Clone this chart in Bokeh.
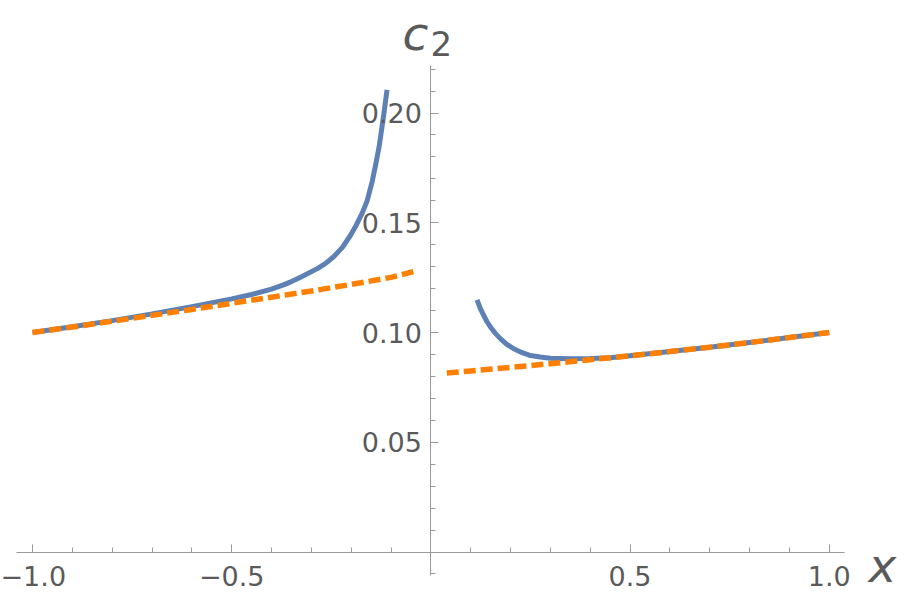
from bokeh.plotting import figure
from bokeh.models import Range1d, LinearAxis, FixedTicker, Label
from bokeh.embed import file_html
from bokeh.resources import INLINE

# ---- data ----
blue_left_x = [-1.0, -0.9, -0.8, -0.7, -0.6, -0.5, -0.45, -0.4, -0.37, -0.35,
               -0.327, -0.305, -0.285, -0.265, -0.244, -0.222, -0.202, -0.187, -0.172,
               -0.16, -0.147, -0.138, -0.130, -0.124, -0.118, -0.110]
blue_left_y = [0.1000, 0.1026, 0.1054, 0.1085, 0.1118, 0.1153, 0.1173, 0.1198, 0.1217, 0.1232,
               0.1252, 0.1272, 0.1291, 0.1314, 0.1345, 0.1388, 0.1442, 0.1490, 0.1545,
               0.1600, 0.1690, 0.1770, 0.1845, 0.1920, 0.1996, 0.2105]

blue_right_x = [0.116, 0.124, 0.133, 0.141, 0.150, 0.162, 0.175, 0.19, 0.208, 0.228,
                0.25, 0.275, 0.30, 0.35, 0.40, 0.45, 0.5, 0.6, 0.7, 0.8, 0.9, 1.0]
blue_right_y = [0.1149, 0.1110, 0.1077, 0.1049, 0.1024, 0.0996, 0.0971, 0.0947, 0.0926, 0.0909,
                0.0895, 0.0888, 0.0883, 0.0880, 0.0881, 0.0885, 0.0894, 0.0913, 0.0933, 0.0954,
                0.0977, 0.1000]

orange_left_x = [-1.0, -0.9, -0.8, -0.7, -0.6, -0.5, -0.4, -0.3, -0.2, -0.1, -0.044]
orange_left_y = [0.1000, 0.1025, 0.1051, 0.1078, 0.1105, 0.1133, 0.1161, 0.1189, 0.1219, 0.1251, 0.1277]

orange_right_x = [0.04, 0.1, 0.2, 0.3, 0.4, 0.5, 0.6, 0.7, 0.8, 0.9, 1.0]
orange_right_y = [0.0815, 0.0825, 0.0841, 0.0858, 0.0876, 0.0894, 0.0913, 0.0933, 0.0954, 0.0977, 0.1000]

x_major = [-1.0, -0.5, 0.5, 1.0]
x_major_labels = ["\u22121.0", "\u22120.5", "0.5", "1.0"]
x_minor = [-0.9, -0.8, -0.7, -0.6, -0.4, -0.3, -0.2, -0.1,
           0.1, 0.2, 0.3, 0.4, 0.6, 0.7, 0.8, 0.9]
y_major = [0.05, 0.10, 0.15, 0.20]
y_major_labels = ["0.05", "0.10", "0.15", "0.20"]
y_minor = [-0.01, 0.01, 0.02, 0.03, 0.04, 0.06, 0.07, 0.08, 0.09, 0.11, 0.12, 0.13,
           0.14, 0.16, 0.17, 0.18, 0.19, 0.21, 0.22]

# ---- figure ----
W, H = 905, 600
x0_px, xs = 430.35, 398.35
y0_px, ys = 551.5, 2195.0

def dx(px):
    return (px - x0_px) / xs

def dy(py):
    return (y0_px - py) / ys

p = figure(width=W, height=H, x_range=Range1d(dx(0), dx(W)), y_range=Range1d(dy(H), dy(0)),
           x_axis_location=None, y_axis_location=None, toolbar_location=None,
           output_backend="svg", min_border=0)
p.grid.visible = False
p.outline_line_color = None
p.background_fill_color = "white"
p.border_fill_color = "white"

AXIS_COL = "#9a9a9a"
TXT_COL = "#5a5a5a"
FONT = "DejaVu Sans"

xaxis = LinearAxis(fixed_location=0,
                   ticker=FixedTicker(ticks=x_major, minor_ticks=x_minor),
                   major_label_overrides={t: l for t, l in zip(x_major, x_major_labels)},
                   bounds=(dx(16), dx(844)))
yaxis = LinearAxis(fixed_location=0,
                   ticker=FixedTicker(ticks=y_major, minor_ticks=y_minor),
                   major_label_overrides={t: l for t, l in zip(y_major, y_major_labels)},
                   bounds=(dy(575), dy(65)))
for ax in (xaxis, yaxis):
    ax.axis_line_color = AXIS_COL
    ax.axis_line_width = 1
    ax.major_tick_line_color = AXIS_COL
    ax.minor_tick_line_color = AXIS_COL
    ax.major_tick_in = 8
    ax.major_tick_out = 0
    ax.minor_tick_in = 5
    ax.minor_tick_out = 0
    ax.major_label_text_color = TXT_COL
    ax.major_label_text_font = FONT
    ax.major_label_text_font_size = "27px"
xaxis.major_label_standoff = 14
yaxis.major_label_standoff = 9
p.add_layout(xaxis, "below")
p.add_layout(yaxis, "left")

BLUE = "#5E81B5"
ORANGE = "#FF8000"
p.line(blue_left_x, blue_left_y, line_color=BLUE, line_width=5, line_join="round")
p.line(blue_right_x, blue_right_y, line_color=BLUE, line_width=5, line_join="round")
p.line(orange_left_x, orange_left_y, line_color=ORANGE, line_width=5.5, line_dash="12 5")
p.line(orange_right_x, orange_right_y, line_color=ORANGE, line_width=5.5, line_dash="12 5")

# axis labels
p.add_layout(Label(x=dx(402), y=dy(33), text="c", text_font=FONT, text_font_style="italic",
                   text_font_size="47px", text_color=TXT_COL,
                   text_align="left", text_baseline="alphabetic"))
p.add_layout(Label(x=dx(430), y=dy(43), text="2", text_font=FONT,
                   text_font_size="34px", text_color=TXT_COL,
                   text_align="left", text_baseline="alphabetic"))
p.add_layout(Label(x=dx(868), y=dy(565), text="x", text_font=FONT, text_font_style="italic",
                   text_font_size="47px", text_color=TXT_COL,
                   text_align="left", text_baseline="alphabetic"))

open("out.html", "w").write(file_html(p, INLINE))
